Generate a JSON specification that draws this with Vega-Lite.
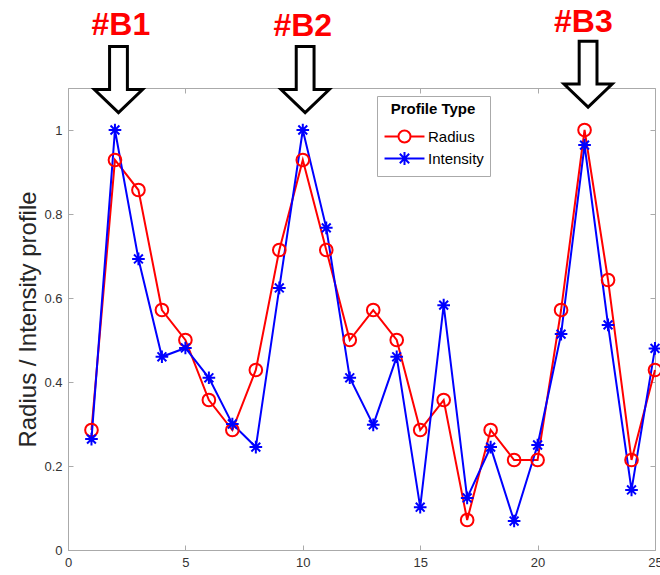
{
  "$schema": "https://vega.github.io/schema/vega-lite/v6.json",
  "width": 587,
  "height": 462,
  "autosize": {"type": "none"},
  "padding": {"left": 68, "top": 88, "right": 5, "bottom": 25},
  "background": "white",
  "datasets": {
    "profiles": [
      {"x": 1, "series": "Radius", "v": 0.2857}, {"x": 2, "series": "Radius", "v": 0.9286}, {"x": 3, "series": "Radius", "v": 0.8571},
      {"x": 4, "series": "Radius", "v": 0.5714}, {"x": 5, "series": "Radius", "v": 0.5}, {"x": 6, "series": "Radius", "v": 0.3571},
      {"x": 7, "series": "Radius", "v": 0.2857}, {"x": 8, "series": "Radius", "v": 0.4286}, {"x": 9, "series": "Radius", "v": 0.7143},
      {"x": 10, "series": "Radius", "v": 0.9286}, {"x": 11, "series": "Radius", "v": 0.7143}, {"x": 12, "series": "Radius", "v": 0.5},
      {"x": 13, "series": "Radius", "v": 0.5714}, {"x": 14, "series": "Radius", "v": 0.5}, {"x": 15, "series": "Radius", "v": 0.2857},
      {"x": 16, "series": "Radius", "v": 0.3571}, {"x": 17, "series": "Radius", "v": 0.0714}, {"x": 18, "series": "Radius", "v": 0.2857},
      {"x": 19, "series": "Radius", "v": 0.2143}, {"x": 20, "series": "Radius", "v": 0.2143}, {"x": 21, "series": "Radius", "v": 0.5714},
      {"x": 22, "series": "Radius", "v": 1.0}, {"x": 23, "series": "Radius", "v": 0.6429}, {"x": 24, "series": "Radius", "v": 0.2143},
      {"x": 25, "series": "Radius", "v": 0.4286},
      {"x": 1, "series": "Intensity", "v": 0.264}, {"x": 2, "series": "Intensity", "v": 1.0}, {"x": 3, "series": "Intensity", "v": 0.693},
      {"x": 4, "series": "Intensity", "v": 0.46}, {"x": 5, "series": "Intensity", "v": 0.481}, {"x": 6, "series": "Intensity", "v": 0.41},
      {"x": 7, "series": "Intensity", "v": 0.3}, {"x": 8, "series": "Intensity", "v": 0.245}, {"x": 9, "series": "Intensity", "v": 0.624},
      {"x": 10, "series": "Intensity", "v": 1.0}, {"x": 11, "series": "Intensity", "v": 0.767}, {"x": 12, "series": "Intensity", "v": 0.41},
      {"x": 13, "series": "Intensity", "v": 0.298}, {"x": 14, "series": "Intensity", "v": 0.46}, {"x": 15, "series": "Intensity", "v": 0.102},
      {"x": 16, "series": "Intensity", "v": 0.583}, {"x": 17, "series": "Intensity", "v": 0.124}, {"x": 18, "series": "Intensity", "v": 0.245},
      {"x": 19, "series": "Intensity", "v": 0.069}, {"x": 20, "series": "Intensity", "v": 0.25}, {"x": 21, "series": "Intensity", "v": 0.514},
      {"x": 22, "series": "Intensity", "v": 0.964}, {"x": 23, "series": "Intensity", "v": 0.536}, {"x": 24, "series": "Intensity", "v": 0.143},
      {"x": 25, "series": "Intensity", "v": 0.48}
    ],
    "labels": [
      {"x": 2.25, "y": 1.226, "label": "#B1"},
      {"x": 10.0, "y": 1.224, "label": "#B2"},
      {"x": 21.95, "y": 1.233, "label": "#B3"}
    ],
    "arrows": [
      {"x": 2.15, "y": 1.12},
      {"x": 10.1, "y": 1.12},
      {"x": 22.15, "y": 1.133}
    ]
  },
  "resolve": {"axis": {"x": "independent", "y": "independent"}},
  "layer": [
    {
      "data": {"name": "profiles"},
      "mark": {"type": "line", "strokeWidth": 2},
      "encoding": {
        "x": {"field": "x", "type": "quantitative", "scale": {"domain": [0, 25], "nice": false},
          "axis": {"orient": "bottom", "values": [0, 5, 10, 15, 20, 25], "format": "~g", "title": null}},
        "y": {"field": "v", "type": "quantitative", "scale": {"domain": [0, 1.1], "nice": false, "zero": false},
          "axis": {"orient": "left", "values": [0, 0.2, 0.4, 0.6, 0.8, 1], "format": "~g", "title": "Radius / Intensity profile",
            "titleFontSize": 24, "titleFont": "Liberation Sans", "titleFontWeight": "normal", "titleColor": "#262626",
            "titleX": -33, "titleY": 231, "titleBaseline": "alphabetic", "titleAngle": -90, "titleAlign": "center"}},
        "color": {"field": "series", "type": "nominal",
          "scale": {"domain": ["Radius", "Intensity"], "range": ["#ff0000", "#0000ff"]},
          "legend": {"title": "Profile Type"}}
      }
    },
    {
      "data": {"name": "profiles"},
      "mark": {"type": "point", "filled": false, "strokeWidth": 2, "opacity": 0},
      "encoding": {
        "x": {"field": "x", "type": "quantitative", "scale": {"domain": [0, 25], "nice": false}, "axis": null},
        "y": {"field": "v", "type": "quantitative", "scale": {"domain": [0, 1.1], "nice": false, "zero": false}, "axis": null},
        "color": {"field": "series", "type": "nominal",
          "scale": {"domain": ["Radius", "Intensity"], "range": ["#ff0000", "#0000ff"]},
          "legend": {"title": "Profile Type"}},
        "shape": {"field": "series", "type": "nominal",
          "scale": {"domain": ["Radius", "Intensity"], "range": [
            "M-3.33,0L-1,0M1,0L3.33,0M-1,0A1,1,0,1,0,1,0A1,1,0,1,0,-1,0",
            "M-3.33,0L3.33,0M0,-1.1L0,1.1M-0.78,-0.78L0.78,0.78M-0.78,0.78L0.78,-0.78"]},
          "legend": {"title": "Profile Type"}}
      }
    },
    {
      "data": {"name": "profiles"},
      "mark": {"type": "point", "filled": false, "strokeWidth": 2, "size": 160, "opacity": 1},
      "encoding": {
        "x": {"field": "x", "type": "quantitative", "scale": {"domain": [0, 25], "nice": false},
          "axis": {"orient": "top", "values": [0, 5, 10, 15, 20, 25], "labels": false, "title": null, "domain": false}},
        "y": {"field": "v", "type": "quantitative", "scale": {"domain": [0, 1.1], "nice": false, "zero": false},
          "axis": {"orient": "right", "values": [0, 0.2, 0.4, 0.6, 0.8, 1], "labels": false, "title": null, "domain": false}},
        "color": {"field": "series", "type": "nominal",
          "scale": {"domain": ["Radius", "Intensity"], "range": ["#ff0000", "#0000ff"]},
          "legend": {"title": "Profile Type"}},
        "shape": {"condition": {"test": "datum.series === 'Radius'", "value": "circle"},
          "value": "M0,-1L0,1M-1,0L1,0M-0.7,-0.7L0.7,0.7M-0.7,0.7L0.7,-0.7"}
      }
    },
    {
      "data": {"name": "arrows"},
      "mark": {"type": "point", "filled": true, "fill": "white", "stroke": "black", "strokeWidth": 3, "opacity": 1, "size": 4356,
        "shape": "M-0.27,-1L0.27,-1L0.27,0.3L0.73,0.3L0,1L-0.73,0.3L-0.27,0.3Z", "clip": false},
      "encoding": {
        "x": {"field": "x", "type": "quantitative", "scale": {"domain": [0, 25], "nice": false}, "axis": null},
        "y": {"field": "y", "type": "quantitative", "scale": {"domain": [0, 1.1], "nice": false, "zero": false}, "axis": null}
      }
    },
    {
      "data": {"name": "labels"},
      "mark": {"type": "text", "color": "#ff0000", "font": "Liberation Sans", "fontSize": 32, "fontWeight": "bold",
        "align": "center", "baseline": "alphabetic", "clip": false},
      "encoding": {
        "x": {"field": "x", "type": "quantitative", "scale": {"domain": [0, 25], "nice": false}, "axis": null},
        "y": {"field": "y", "type": "quantitative", "scale": {"domain": [0, 1.1], "nice": false, "zero": false}, "axis": null},
        "text": {"field": "label"}
      }
    }
  ],
  "config": {
    "view": {"stroke": "#aaaaaa", "strokeWidth": 1},
    "axis": {
      "grid": false,
      "domainColor": "#aaaaaa",
      "tickColor": "#aaaaaa",
      "tickSize": -5,
      "labelPadding": 11,
      "labelFont": "Liberation Sans",
      "labelFontSize": 13,
      "labelColor": "#333333",
      "labelFlush": false,
      "labelOverlap": false
    },
    "legend": {
      "orient": "none",
      "legendX": 309,
      "legendY": 8,
      "strokeColor": "#aaaaaa",
      "fillColor": "white",
      "padding": 6,
      "titleFont": "Liberation Sans",
      "titleFontSize": 15,
      "titleFontWeight": "bold",
      "titleColor": "black",
      "titleAnchor": "middle",
      "titlePadding": 12,
      "labelFont": "Liberation Sans",
      "labelFontSize": 15,
      "labelColor": "black",
      "labelOffset": 16,
      "symbolOffset": 14,
      "rowPadding": 0,
      "symbolStrokeWidth": 2,
      "symbolSize": 144,
      "symbolOpacity": 1
    }
  }
}
